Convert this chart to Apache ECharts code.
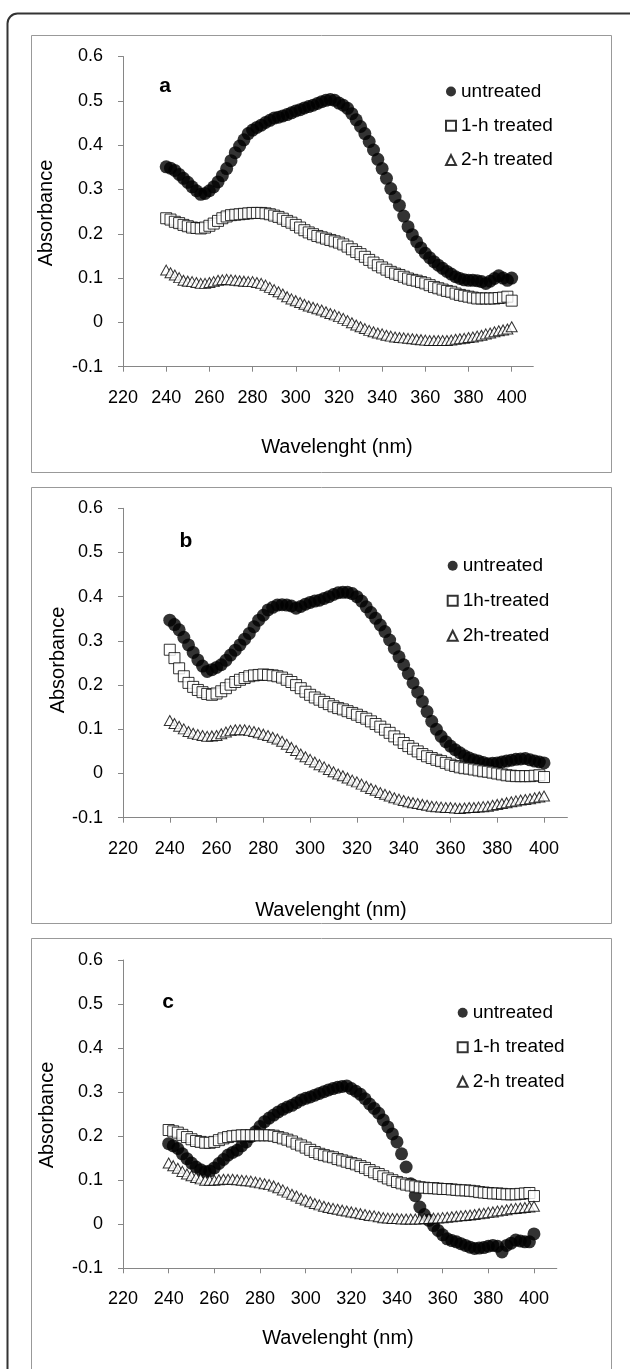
<!DOCTYPE html>
<html>
<head>
<meta charset="utf-8">
<script src="https://cdn.jsdelivr.net/npm/echarts@6/dist/echarts.min.js"></script>
<style>
  html, body { margin: 0; padding: 0; background: #fff; }
  #container { width: 630px; height: 1369px; }
</style>
</head>
<body>
<div id="container"></div>
<script>
// wavelengths (nm), one reading every 2 nm
var wavelength = [
    240, 242, 244, 246, 248, 250, 252, 254, 256, 258,
    260, 262, 264, 266, 268, 270, 272, 274, 276, 278,
    280, 282, 284, 286, 288, 290, 292, 294, 296, 298,
    300, 302, 304, 306, 308, 310, 312, 314, 316, 318,
    320, 322, 324, 326, 328, 330, 332, 334, 336, 338,
    340, 342, 344, 346, 348, 350, 352, 354, 356, 358,
    360, 362, 364, 366, 368, 370, 372, 374, 376, 378,
    380, 382, 384, 386, 388, 390, 392, 394, 396, 398,
    400
];
var xTicks = [220, 240, 260, 280, 300, 320, 340, 360, 380, 400];

// panel a
var aUntreated = [
    0.351, 0.348, 0.343, 0.334, 0.325, 0.316, 0.306, 0.297, 0.289, 0.291,
    0.297, 0.306, 0.317, 0.331, 0.347, 0.365, 0.383, 0.398, 0.412, 0.426,
    0.434, 0.440, 0.445, 0.451, 0.456, 0.461, 0.463, 0.466, 0.469, 0.473,
    0.477, 0.480, 0.484, 0.487, 0.490, 0.494, 0.498, 0.501, 0.503, 0.501,
    0.495, 0.490, 0.483, 0.471, 0.457, 0.442, 0.426, 0.408, 0.389, 0.368,
    0.347, 0.325, 0.302, 0.283, 0.264, 0.240, 0.216, 0.198, 0.182, 0.168,
    0.156, 0.146, 0.137, 0.129, 0.122, 0.115, 0.109, 0.103, 0.099, 0.096,
    0.095, 0.095, 0.094, 0.092, 0.088, 0.093, 0.099, 0.105, 0.100, 0.095,
    0.100
];
var a1h = [
    0.235, 0.232, 0.227, 0.224, 0.220, 0.217, 0.214, 0.213, 0.212, 0.214,
    0.218, 0.223, 0.229, 0.235, 0.239, 0.242, 0.243, 0.244, 0.245, 0.246,
    0.247, 0.247, 0.247, 0.246, 0.244, 0.241, 0.238, 0.234, 0.229, 0.225,
    0.220, 0.214, 0.208, 0.203, 0.199, 0.195, 0.192, 0.189, 0.186, 0.183,
    0.180, 0.176, 0.171, 0.165, 0.159, 0.154, 0.148, 0.141, 0.135, 0.129,
    0.124, 0.119, 0.114, 0.110, 0.107, 0.103, 0.099, 0.096, 0.094, 0.091,
    0.088, 0.084, 0.080, 0.077, 0.074, 0.071, 0.069, 0.065, 0.062, 0.060,
    0.058, 0.056, 0.054, 0.054, 0.054, 0.054, 0.054, 0.055, 0.056, 0.058,
    0.049
];
var a2h = [
    0.118, 0.112, 0.107, 0.101, 0.095, 0.093, 0.092, 0.090, 0.088, 0.088,
    0.090, 0.092, 0.095, 0.096, 0.097, 0.096, 0.095, 0.094, 0.093, 0.092,
    0.092, 0.090, 0.088, 0.084, 0.079, 0.074, 0.069, 0.064, 0.058, 0.053,
    0.049, 0.045, 0.041, 0.037, 0.034, 0.031, 0.028, 0.024, 0.020, 0.017,
    0.013, 0.009, 0.004, -0.001, -0.006, -0.010, -0.014, -0.018, -0.021, -0.024,
    -0.026, -0.029, -0.031, -0.033, -0.034, -0.035, -0.036, -0.037, -0.038, -0.039,
    -0.040, -0.041, -0.041, -0.041, -0.041, -0.041, -0.040, -0.038, -0.037, -0.036,
    -0.034, -0.033, -0.031, -0.029, -0.026, -0.024, -0.021, -0.019, -0.017, -0.015,
    -0.010
];

// panel b
var bUntreated = [
    0.347, 0.337, 0.325, 0.308, 0.291, 0.274, 0.257, 0.243, 0.231, 0.235,
    0.240, 0.246, 0.256, 0.268, 0.279, 0.291, 0.304, 0.317, 0.332, 0.347,
    0.358, 0.370, 0.376, 0.381, 0.382, 0.381, 0.379, 0.374, 0.378, 0.383,
    0.387, 0.390, 0.392, 0.396, 0.400, 0.405, 0.409, 0.410, 0.410, 0.407,
    0.400, 0.390, 0.377, 0.364, 0.351, 0.336, 0.321, 0.302, 0.283, 0.264,
    0.246, 0.226, 0.205, 0.184, 0.163, 0.140, 0.118, 0.100, 0.084, 0.072,
    0.062, 0.054, 0.047, 0.040, 0.035, 0.031, 0.028, 0.025, 0.022, 0.023,
    0.024, 0.026, 0.028, 0.030, 0.032, 0.033, 0.034, 0.031, 0.028, 0.026,
    0.024
];
var b1h = [
    0.280, 0.261, 0.238, 0.220, 0.205, 0.196, 0.189, 0.184, 0.180, 0.178,
    0.181, 0.186, 0.193, 0.201, 0.207, 0.212, 0.216, 0.220, 0.222, 0.223,
    0.224, 0.223, 0.222, 0.220, 0.217, 0.212, 0.207, 0.200, 0.193, 0.185,
    0.178, 0.172, 0.167, 0.162, 0.157, 0.152, 0.148, 0.145, 0.141, 0.137,
    0.133, 0.128, 0.124, 0.118, 0.112, 0.106, 0.099, 0.092, 0.084, 0.077,
    0.069, 0.062, 0.056, 0.050, 0.044, 0.039, 0.035, 0.031, 0.028, 0.024,
    0.020, 0.017, 0.014, 0.012, 0.011, 0.009, 0.007, 0.005, 0.004, 0.002,
    0.000, -0.002, -0.004, -0.005, -0.006, -0.006, -0.006, -0.006, -0.005, -0.004,
    -0.008
];
var b2h = [
    0.120, 0.113, 0.107, 0.101, 0.095, 0.091, 0.088, 0.086, 0.084, 0.085,
    0.086, 0.090, 0.094, 0.097, 0.099, 0.099, 0.099, 0.097, 0.095, 0.092,
    0.089, 0.086, 0.082, 0.078, 0.073, 0.066, 0.059, 0.052, 0.044, 0.038,
    0.032, 0.026, 0.020, 0.015, 0.009, 0.004, -0.001, -0.005, -0.010, -0.015,
    -0.019, -0.024, -0.029, -0.034, -0.038, -0.043, -0.047, -0.051, -0.055, -0.058,
    -0.061, -0.064, -0.066, -0.068, -0.070, -0.072, -0.074, -0.075, -0.076, -0.077,
    -0.077, -0.078, -0.079, -0.078, -0.077, -0.077, -0.076, -0.075, -0.074, -0.072,
    -0.070, -0.068, -0.066, -0.064, -0.062, -0.060, -0.059, -0.057, -0.055, -0.053,
    -0.051
];

// panel c
var cUntreated = [
    0.183, 0.178, 0.172, 0.160, 0.149, 0.139, 0.130, 0.124, 0.119, 0.121,
    0.128, 0.138, 0.147, 0.157, 0.163, 0.168, 0.178, 0.187, 0.199, 0.210,
    0.222, 0.233, 0.241, 0.248, 0.255, 0.261, 0.266, 0.270, 0.276, 0.282,
    0.286, 0.289, 0.293, 0.297, 0.301, 0.305, 0.308, 0.311, 0.313, 0.314,
    0.308, 0.302, 0.295, 0.285, 0.273, 0.263, 0.252, 0.237, 0.221, 0.205,
    0.187, 0.160, 0.130, 0.092, 0.065, 0.039, 0.022, 0.009, -0.003, -0.014,
    -0.024, -0.033, -0.037, -0.040, -0.044, -0.048, -0.052, -0.055, -0.054, -0.053,
    -0.050, -0.048, -0.050, -0.063, -0.048, -0.043, -0.036, -0.038, -0.040, -0.040,
    -0.022
];
var c1h = [
    0.214, 0.211, 0.208, 0.203, 0.198, 0.193, 0.189, 0.187, 0.185, 0.185,
    0.187, 0.191, 0.195, 0.198, 0.200, 0.201, 0.202, 0.202, 0.202, 0.202,
    0.202, 0.202, 0.202, 0.201, 0.198, 0.195, 0.192, 0.188, 0.183, 0.179,
    0.174, 0.169, 0.164, 0.160, 0.157, 0.154, 0.152, 0.148, 0.145, 0.142,
    0.139, 0.136, 0.132, 0.128, 0.123, 0.118, 0.114, 0.109, 0.104, 0.100,
    0.096, 0.093, 0.090, 0.088, 0.086, 0.084, 0.083, 0.082, 0.082, 0.081,
    0.080, 0.080, 0.079, 0.078, 0.077, 0.077, 0.076, 0.075, 0.073, 0.072,
    0.071, 0.070, 0.070, 0.069, 0.068, 0.068, 0.068, 0.069, 0.070, 0.071,
    0.064
];
var c2h = [
    0.139, 0.133, 0.127, 0.120, 0.114, 0.110, 0.106, 0.103, 0.100, 0.100,
    0.100, 0.101, 0.102, 0.102, 0.102, 0.101, 0.100, 0.099, 0.098, 0.096,
    0.094, 0.092, 0.090, 0.087, 0.083, 0.078, 0.073, 0.068, 0.064, 0.059,
    0.055, 0.051, 0.047, 0.044, 0.041, 0.038, 0.036, 0.034, 0.032, 0.030,
    0.028, 0.026, 0.024, 0.022, 0.020, 0.019, 0.017, 0.015, 0.014, 0.013,
    0.013, 0.012, 0.012, 0.012, 0.012, 0.012, 0.013, 0.013, 0.014, 0.014,
    0.015, 0.016, 0.017, 0.018, 0.019, 0.020, 0.021, 0.022, 0.024, 0.025,
    0.027, 0.028, 0.030, 0.031, 0.033, 0.035, 0.036, 0.037, 0.038, 0.039,
    0.041
];

var namesA = ['untreated', '1-h treated', '2-h treated'];
var namesB = ['untreated', '1h-treated', '2h-treated'];
var namesC = ['untreated', '1-h treated', '2-h treated'];

window.onload = function () {
    var FONT = '"Liberation Sans", Arial, sans-serif';
    var AXIS_GREY = '#868686';
    var myChart = echarts.init(document.getElementById('container'), null, { renderer: 'canvas' });

    function pairs(ys) {
        return wavelength.map(function (w, i) { return [w, ys[i]]; });
    }

    // panel geometry (pixels)
    var panels = [
        { grid: { left: 123, top: 56.5, width: 410.3, height: 310.2 }, names: namesA,
          data: [aUntreated, a1h, a2h], legend: { left: 445, top: 82, itemGap: 15.3 } },
        { grid: { left: 123, top: 508.3, width: 444.4, height: 309.4 }, names: namesB,
          data: [bUntreated, b1h, b2h], legend: { left: 446.7, top: 556.2, itemGap: 16 } },
        { grid: { left: 123, top: 960, width: 433.8, height: 308.3 }, names: namesC,
          data: [cUntreated, c1h, c2h], legend: { left: 456.7, top: 1003.2, itemGap: 15.5 } }
    ];

    var grids = [], xAxes = [], yAxes = [], series = [], legends = [];
    var symbols = [
        { symbol: 'circle', symbolSize: 13, itemStyle: { color: '#000', borderColor: '#000', borderWidth: 0 } },
        { symbol: 'rect', symbolSize: 11, itemStyle: { color: '#fff', borderColor: '#000', borderWidth: 1 } },
        { symbol: 'triangle', symbolSize: [11, 10], itemStyle: { color: '#fff', borderColor: '#000', borderWidth: 1 } }
    ];

    panels.forEach(function (p, k) {
        grids.push(Object.assign({ containLabel: false, outerBoundsMode: 'none' }, p.grid));
        xAxes.push({
            type: 'value', gridIndex: k, min: 220, max: 410,
            splitLine: { show: false },
            axisLine: { show: true, onZero: false, lineStyle: { color: AXIS_GREY, width: 1 } },
            axisTick: { show: true, inside: false, length: 5, customValues: xTicks,
                        lineStyle: { color: AXIS_GREY } },
            axisLabel: { show: true, customValues: xTicks, margin: 22, color: '#000',
                         fontSize: 18, fontFamily: FONT }
        });
        yAxes.push({
            type: 'value', gridIndex: k, min: -0.1, max: 0.6, interval: 0.1,
            splitLine: { show: false },
            axisLine: { show: true, onZero: false, lineStyle: { color: AXIS_GREY, width: 1 } },
            axisTick: { show: true, inside: false, length: 5, lineStyle: { color: AXIS_GREY } },
            axisLabel: { show: true, margin: 20, color: '#000', fontSize: 18, fontFamily: FONT,
                         formatter: function (v) { return String(Math.round(v * 10) / 10); } }
        });
        p.names.forEach(function (nm, j) {
            series.push({
                type: 'scatter', name: nm, xAxisIndex: k, yAxisIndex: k,
                symbol: symbols[j].symbol, symbolSize: symbols[j].symbolSize,
                itemStyle: symbols[j].itemStyle,
                emphasis: { disabled: true },
                data: pairs(p.data[j])
            });
        });
        legends.push({
            orient: 'vertical', left: p.legend.left, top: p.legend.top,
            itemGap: p.legend.itemGap, itemWidth: 10, itemHeight: 10, itemTextGap: 4,
            padding: 0, selectedMode: false,
            textStyle: { color: '#000', fontSize: 19, lineHeight: 19, fontFamily: FONT },
            data: p.names
        });
    });

    function txt(x, y, s, opts) {
        return Object.assign({
            type: 'text', x: x, y: y, silent: true,
            style: { text: s, fill: '#000', font: '20px ' + FONT, align: 'center', verticalAlign: 'middle' }
        }, opts || {});
    }
    function letter(x, y, s) {
        return txt(x, y, s, { style: { text: s, fill: '#000', font: 'bold 21px ' + FONT,
                                       align: 'center', verticalAlign: 'middle' } });
    }

    var graphics = [
        // outer frame
        { type: 'rect', silent: true, z: -10,
          shape: { x: 7.5, y: 13.5, width: 700, height: 1400, r: 10 },
          style: { fill: 'none', stroke: '#333', lineWidth: 2 } },
        // panel frames
        { type: 'rect', silent: true, z: -9,
          shape: { x: 31.5, y: 35.5, width: 580, height: 437 },
          style: { fill: 'none', stroke: '#999', lineWidth: 1 } },
        { type: 'rect', silent: true, z: -9,
          shape: { x: 31.5, y: 487.5, width: 580, height: 436 },
          style: { fill: 'none', stroke: '#999', lineWidth: 1 } },
        { type: 'rect', silent: true, z: -9,
          shape: { x: 31.5, y: 938.5, width: 580, height: 500 },
          style: { fill: 'none', stroke: '#999', lineWidth: 1 } },
        // panel letters
        letter(165, 86, 'a'),
        letter(186, 541, 'b'),
        letter(168, 1002, 'c'),
        // axis names
        txt(46, 213, 'Absorbance', { rotation: Math.PI / 2 }),
        txt(58, 660, 'Absorbance', { rotation: Math.PI / 2 }),
        txt(47, 1115, 'Absorbance', { rotation: Math.PI / 2 }),
        txt(337, 447, 'Wavelenght (nm)'),
        txt(331, 910, 'Wavelenght (nm)'),
        txt(338, 1338, 'Wavelenght (nm)')
    ];

    var option = {
        animation: false,
        backgroundColor: '#fff',
        grid: grids,
        xAxis: xAxes,
        yAxis: yAxes,
        legend: legends,
        graphic: graphics,
        series: series
    };
    myChart.setOption(option);
};
</script>
</body>
</html>
